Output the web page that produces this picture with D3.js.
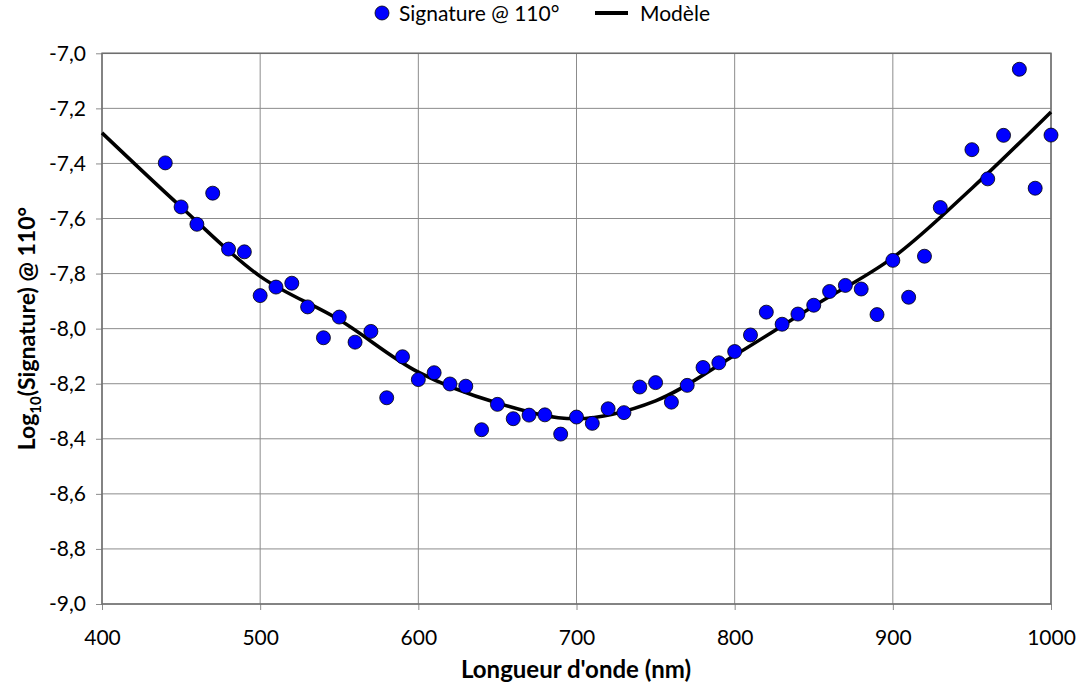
<!DOCTYPE html>
<html><head><meta charset="utf-8">
<script src="https://cdn.jsdelivr.net/npm/d3@7"></script>
<style>body{margin:0;background:#fff;}svg{display:block;}</style>
</head><body>
<svg id="c" width="1082" height="690"></svg>
<script>
const wavelengths = [440,450,460,470,480,490,500,510,520,530,540,550,560,570,580,590,600,610,620,630,640,650,660,670,680,690,700,710,720,730,740,750,760,770,780,790,800,810,820,830,840,850,860,870,880,890,900,910,920,930,950,960,970,980,990,1000];
const signature = [-7.398,-7.558,-7.621,-7.508,-7.711,-7.721,-7.880,-7.849,-7.835,-7.921,-8.033,-7.958,-8.049,-8.010,-8.251,-8.102,-8.185,-8.160,-8.201,-8.209,-8.367,-8.275,-8.327,-8.314,-8.313,-8.383,-8.321,-8.344,-8.291,-8.305,-8.212,-8.196,-8.267,-8.206,-8.141,-8.124,-8.083,-8.023,-7.940,-7.984,-7.947,-7.915,-7.865,-7.843,-7.856,-7.949,-7.752,-7.886,-7.737,-7.560,-7.350,-7.456,-7.298,-7.058,-7.490,-7.297];
const modelX = [400,450,500,550,600,650,700,750,800,850,900,950,1000];
const modelY = [-7.289,-7.558,-7.810,-7.968,-8.158,-8.270,-8.327,-8.262,-8.097,-7.918,-7.742,-7.490,-7.213];
const xTicks = [400,500,600,700,800,900,1000];
const yTicks = [-9.0,-8.8,-8.6,-8.4,-8.2,-8.0,-7.8,-7.6,-7.4,-7.2,-7.0];

const svg = d3.select('#c');
const L=102, R=1051, T=53.3, B=604;
const x = d3.scaleLinear().domain([400,1000]).range([L,R]);
const y = d3.scaleLinear().domain([-9,-7]).range([B,T]);
const font = "Lato, 'Open Sans', sans-serif";
const fmt = v => d3.format('.1f')(v).replace('.',',').replace('−','-');

// grid
svg.append('g').selectAll('line').data(yTicks).join('line')
  .attr('x1',L).attr('x2',R).attr('y1',d=>y(d)).attr('y2',d=>y(d))
  .attr('stroke','#8c8c8c').attr('stroke-width',1);
svg.append('g').selectAll('line').data(xTicks).join('line')
  .attr('y1',T).attr('y2',B).attr('x1',d=>x(d)).attr('x2',d=>x(d))
  .attr('stroke','#8c8c8c').attr('stroke-width',1);

// axes
const xAxis = svg.append('g').attr('transform',`translate(0,${B})`)
  .call(d3.axisBottom(x).tickValues(xTicks).tickSize(6).tickPadding(20).tickFormat(d3.format('d')));
const yAxis = svg.append('g').attr('transform',`translate(${L},0)`)
  .call(d3.axisLeft(y).tickValues(yTicks).tickSize(6).tickPadding(10).tickFormat(fmt));
[xAxis,yAxis].forEach(a=>{
  a.select('.domain').remove();
  a.selectAll('.tick line').attr('stroke','#8c8c8c');
  a.selectAll('.tick text').attr('font-family',font).attr('font-size',21).attr('fill','#000');
});

// border
svg.append('rect').attr('x',L).attr('y',T).attr('width',R-L).attr('height',B-T)
  .attr('fill','none').attr('stroke','#6e6e6e').attr('stroke-width',1.5);

// model line
const line = d3.line().x(d=>x(d[0])).y(d=>y(d[1])).curve(d3.curveCatmullRom.alpha(0.5));
svg.append('path').datum(modelX.map((v,i)=>[v,modelY[i]]))
  .attr('d',line).attr('fill','none').attr('stroke','#000').attr('stroke-width',3.5);

// points
svg.append('g').selectAll('circle').data(wavelengths.map((v,i)=>[v,signature[i]])).join('circle')
  .attr('cx',d=>x(d[0])).attr('cy',d=>y(d[1])).attr('r',7)
  .attr('fill','#0000ff').attr('stroke','#000').attr('stroke-width',0.8);

// axis titles
svg.append('text').attr('x',576).attr('y',678).attr('text-anchor','middle')
  .attr('font-family',font).attr('font-weight','bold').attr('font-size',24).text("Longueur d'onde (nm)");
const yt = svg.append('text').attr('transform',`translate(35,${(T+B)/2}) rotate(-90)`).attr('text-anchor','middle')
  .attr('font-family',font).attr('font-weight','bold').attr('font-size',23);
yt.append('tspan').text('Log');
yt.append('tspan').attr('font-size',15).attr('dy',6).text('10');
yt.append('tspan').attr('dy',-6).text('(Signature) @ 110°');

// legend
const lg = svg.append('g');
lg.append('circle').attr('cx',382).attr('cy',13).attr('r',7).attr('fill','#0000ff').attr('stroke','#000').attr('stroke-width',0.8);
lg.append('text').attr('x',399).attr('y',21).attr('font-family',font).attr('font-size',21).text('Signature @ 110°');
lg.append('line').attr('x1',595).attr('x2',628).attr('y1',13).attr('y2',13).attr('stroke','#000').attr('stroke-width',4);
lg.append('text').attr('x',640).attr('y',21).attr('font-family',font).attr('font-size',21).text('Modèle');
</script>
</body></html>
